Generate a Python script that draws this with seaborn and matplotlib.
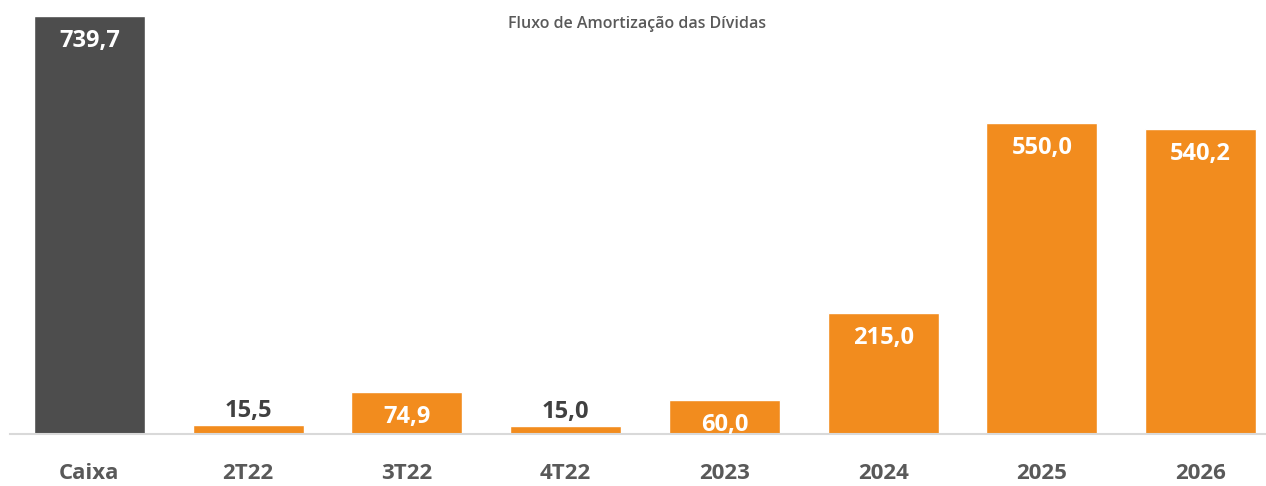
import matplotlib
matplotlib.use("Agg")
import matplotlib.pyplot as plt
import seaborn as sns
import pandas as pd

categories = ["Caixa", "2T22", "3T22", "4T22", "2023", "2024", "2025", "2026"]
values = [739.7, 15.5, 74.9, 15.0, 60.0, 215.0, 550.0, 540.2]
labels = ["739,7", "15,5", "74,9", "15,0", "60,0", "215,0", "550,0", "540,2"]
title = "Fluxo de Amortização das Dívidas"

sns.set_theme(style="white")
plt.rcParams['font.family'] = ['Open Sans', 'DejaVu Sans']

W, H = 1266, 486
fig = plt.figure(figsize=(W / 100, H / 100), dpi=100)
left = 10 / W
right = 1280 / W
bottom = (H - 434) / H
top = (H - 16) / H
ax = fig.add_axes([left, bottom, right - left, top - bottom])

df = pd.DataFrame({"cat": categories, "val": values})
palette = ["#4D4D4D"] + ["#F28C1E"] * (len(categories) - 1)
sns.barplot(data=df, x="cat", y="val", hue="cat", palette=palette, legend=False,
            width=0.70, ax=ax, saturation=1)

ax.set_xlim(-0.5, len(categories) - 0.5)
ax.set_ylim(0, 739.7)
for s in ["top", "right", "left"]:
    ax.spines[s].set_visible(False)
ax.spines["bottom"].set_color("#D9D9D9")
ax.spines["bottom"].set_linewidth(1.5)
ax.spines["bottom"].set_clip_on(False)
ax.set_yticks([])
ax.set_xlabel("")
ax.set_ylabel("")
ax.tick_params(axis="x", length=0, pad=21)
ax.set_xticks(range(len(categories)))
ax.set_xticklabels(categories, fontsize=16, fontweight="bold", color="#595959")

px_per_unit = (434 - 16) / 739.7
for i, (v, lab) in enumerate(zip(values, labels)):
    if v > 40:
        y = v - 25 / px_per_unit
        ax.text(i, y, lab, ha="center", va="center", fontsize=17, fontweight="bold",
                color="white")
    else:
        y = v + 14 / px_per_unit
        ax.text(i, y, lab, ha="center", va="center", fontsize=17, fontweight="bold",
                color="#404040")

fig.text(637 / W, 1 - 24 / H, title, ha="center", va="center", fontsize=11.5,
         fontweight="semibold", color="#595959")

fig.savefig("out.png", dpi=100)
